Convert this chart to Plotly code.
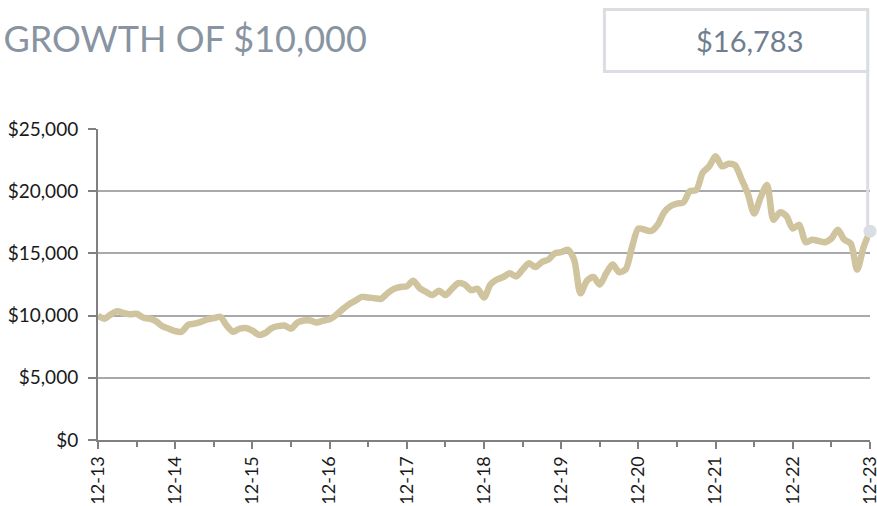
import plotly.graph_objects as go

title_text = "GROWTH OF $10,000"
final_label = "$16,783"

x_tick_labels = ["12-13", "12-14", "12-15", "12-16", "12-17", "12-18",
                 "12-19", "12-20", "12-21", "12-22", "12-23"]

y_tick_values = [0, 5000, 10000, 15000, 20000, 25000]
y_tick_labels = ["$0", "$5,000", "$10,000", "$15,000", "$20,000", "$25,000"]

# Monthly growth of $10,000, Dec 2013 .. Dec 2023
values_2013 = [10000]
values_2014 = [9750, 10100, 10350, 10200, 10100, 10150, 9850, 9750, 9550, 9150, 8950, 8750]
values_2015 = [8700, 9250, 9350, 9500, 9700, 9800, 9900, 9200, 8700, 8950, 9000, 8800]
values_2016 = [8450, 8600, 9000, 9150, 9200, 8950, 9450, 9600, 9600, 9450, 9600, 9700]
values_2017 = [10050, 10500, 10900, 11200, 11500, 11450, 11400, 11350, 11800, 12150, 12300, 12350]
values_2018 = [12800, 12200, 11900, 11650, 12000, 11650, 12150, 12600, 12500, 12050, 12150, 11450]
values_2019 = [12500, 12900, 13100, 13400, 13150, 13700, 14200, 13900, 14300, 14500, 15000, 15100]
values_2020 = [15300, 14500, 11800, 12800, 13100, 12500, 13400, 14100, 13500, 13700, 15500, 17000]
values_2021 = [16900, 16800, 17300, 18300, 18800, 19000, 19100, 20000, 20100, 21500, 22000, 22800]
values_2022 = [22000, 22200, 22100, 21000, 19800, 18200, 19500, 20500, 17700, 18300, 18000, 17000]
values_2023 = [17300, 15900, 16100, 16000, 15900, 16200, 16900, 16100, 15800, 13700, 15500, 16783]

values = (values_2013 + values_2014 + values_2015 + values_2016 + values_2017 +
          values_2018 + values_2019 + values_2020 + values_2021 + values_2022 + values_2023)
months = list(range(len(values)))
major_ticks = months[::12]
minor_ticks = [m + 6 for m in major_ticks[:-1]]
y_max = 25000

LINE_COLOR = "#D0C49E"
ACCENT = "#DADDE2"
AXIS = "#808080"
GRID = "#A9A9AD"
FONT = "Lato"

fig = go.Figure()
fig.add_trace(go.Scatter(
    x=months, y=values, mode="lines",
    line=dict(color=LINE_COLOR, width=6.5, shape="spline", smoothing=0.8),
    hoverinfo="skip", showlegend=False,
))
fig.add_trace(go.Scatter(
    x=[months[-1]], y=[values[-1]], mode="markers",
    marker=dict(color=ACCENT, size=13), cliponaxis=False,
    hoverinfo="skip", showlegend=False,
))

box_bottom = 1.185
box_top = 1.384
fig.add_shape(type="line", xref="paper", yref="paper",
              x0=0.997, x1=0.997, y0=values[-1] / y_max, y1=box_top,
              line=dict(color=ACCENT, width=3), layer="above")
fig.add_shape(type="rect", xref="paper", yref="paper",
              x0=0.656, x1=0.997, y0=box_bottom, y1=box_top,
              line=dict(color=ACCENT, width=3), fillcolor="white", layer="above")
fig.add_annotation(xref="paper", yref="paper", x=0.845, y=(box_bottom + box_top) / 2,
                   xanchor="center", yanchor="middle",
                   text=final_label, showarrow=False,
                   font=dict(family=FONT, size=29, color="#6F7F8F"))

fig.update_layout(
    width=877, height=506,
    margin=dict(l=98, r=7, t=129, b=66),
    paper_bgcolor="white", plot_bgcolor="white",
    title=dict(text=title_text, xref="container", yref="container",
               x=0.004, y=0.922, xanchor="left", yanchor="middle",
               font=dict(family=FONT, size=36, color="#8894A1")),
    font=dict(family=FONT, color="#1a1a1a"),
    xaxis=dict(
        range=[0, months[-1]], tickvals=major_ticks, ticktext=x_tick_labels,
        tickangle=-90, ticks="outside", ticklen=7, tickwidth=1.5, tickcolor=AXIS,
        minor=dict(tickvals=minor_ticks, ticks="outside", ticklen=5, tickwidth=1.5, tickcolor=AXIS),
        showline=True, linecolor=AXIS, linewidth=2, showgrid=False, zeroline=False,
        tickfont=dict(family=FONT, size=18, color="#1a1a1a"), automargin=False,
        ticklabeloverflow="allow",
    ),
    xaxis2=dict(
        overlaying="x", anchor="y", side="bottom", range=[0, months[-1]],
        tickvals=major_ticks, ticks="inside", ticklen=6, tickwidth=1.5, tickcolor=AXIS,
        showticklabels=False, showgrid=False, showline=False, zeroline=False,
    ),
    yaxis=dict(
        range=[0, y_max], tickvals=y_tick_values, ticktext=y_tick_labels,
        ticks="outside", ticklen=8, tickwidth=1.5, tickcolor=AXIS, ticklabelstandoff=6,
        showline=True, linecolor=AXIS, linewidth=2,
        showgrid=True, gridcolor=GRID, gridwidth=2, zeroline=False,
        tickfont=dict(family=FONT, size=19, color="#1a1a1a"), automargin=False,
    ),
)

fig.write_html("out.html", config={"displayModeBar": False},
               post_script="document.body.style.margin='0';")
